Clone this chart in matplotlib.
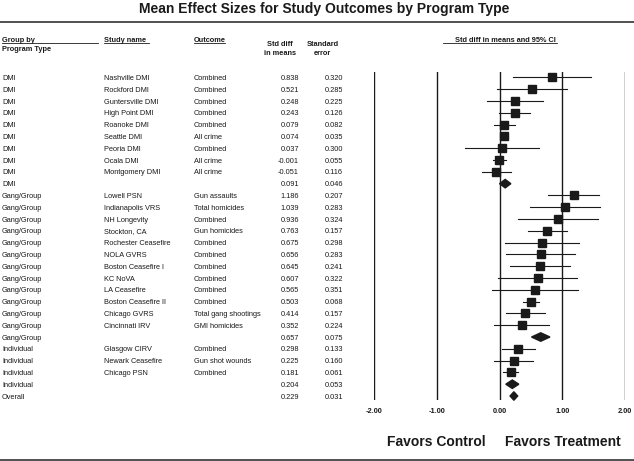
import numpy as np
import matplotlib.pyplot as plt
import matplotlib as mpl
from matplotlib.transforms import blended_transform_factory
from matplotlib.lines import Line2D

mpl.rc('font', family='Liberation Sans')

groups = ['DMI'] * 10 + ['Gang/Group'] * 13 + ['Individual'] * 4 + ['Overall']
studies = ['Nashville DMI', 'Rockford DMI', 'Guntersville DMI', 'High Point DMI', 'Roanoke DMI',
           'Seattle DMI', 'Peoria DMI', 'Ocala DMI', 'Montgomery DMI', '',
           'Lowell PSN', 'Indianapolis VRS', 'NH Longevity', 'Stockton, CA', 'Rochester Ceasefire',
           'NOLA GVRS', 'Boston Ceasefire I', 'KC NoVA', 'LA Ceasefire', 'Boston Ceasefire II',
           'Chicago GVRS', 'Cincinnati IRV', '',
           'Glasgow CIRV', 'Newark Ceasefire', 'Chicago PSN', '', '']
outcomes = ['Combined', 'Combined', 'Combined', 'Combined', 'Combined', 'All crime', 'Combined',
            'All crime', 'All crime', '',
            'Gun assaults', 'Total homicides', 'Combined', 'Gun homicides', 'Combined', 'Combined',
            'Combined', 'Combined', 'Combined', 'Combined', 'Total gang shootings', 'GMI homicides', '',
            'Combined', 'Gun shot wounds', 'Combined', '', '']
effect = [0.838, 0.521, 0.248, 0.243, 0.079, 0.074, 0.037, -0.001, -0.051, 0.091,
          1.186, 1.039, 0.936, 0.763, 0.675, 0.656, 0.645, 0.607, 0.565, 0.503, 0.414, 0.352, 0.657,
          0.298, 0.225, 0.181, 0.204, 0.229]
stderr = [0.320, 0.285, 0.225, 0.126, 0.082, 0.035, 0.300, 0.055, 0.116, 0.046,
          0.207, 0.283, 0.324, 0.157, 0.298, 0.283, 0.241, 0.322, 0.351, 0.068, 0.157, 0.224, 0.075,
          0.133, 0.160, 0.061, 0.053, 0.031]
is_summary = [s == '' for s in studies]
xticks = [-2, -1, 0, 1, 2]

W, H = 634, 461
ink = '#1a1a1a'
fig = plt.figure(figsize=(W / 100, H / 100), dpi=100)

def fx(px):
    return px / W

def fy(py):
    return 1 - py / H

# forest axes: rows at pixel 77.5 .. 396, x -2..2 at pixel 374..625
row0 = 77.5
row_px = (396 - row0) / 27
y_top, y_bot = -0.5, 27.35
ax_top = row0 + y_top * row_px
ax_bot = row0 + y_bot * row_px
ax = fig.add_axes([fx(374), fy(ax_bot), fx(625) - fx(374), (ax_bot - ax_top) / H])
ax.set_xlim(-2, 2)
ax.set_ylim(y_bot, y_top)
for s in ax.spines.values():
    s.set_visible(False)
ax.set_yticks([])
ax.set_xticks(xticks)
ax.set_xticklabels(['%.2f' % t for t in xticks], fontsize=5.3, fontweight='bold', color=ink)
ax.tick_params(axis='x', length=0, pad=6)
for t in xticks:
    ax.axvline(t, color=ink, lw=1.0, zorder=1)

eff = np.array(effect)
se = np.array(stderr)
lo, hi = eff - 1.96 * se, eff + 1.96 * se
rows = np.arange(len(eff))
for i in rows:
    if is_summary[i]:
        dh = 0.36
        ax.fill([lo[i], eff[i], hi[i], eff[i]], [i, i - dh, i, i + dh], color=ink, zorder=3,
                clip_on=False)
    else:
        ax.plot([lo[i], hi[i]], [i, i], color=ink, lw=0.8, zorder=2, clip_on=False)
        ax.plot(eff[i], i, marker='s', ms=6, color=ink, zorder=3, clip_on=False)

# table text, baseline a little below the row centre
tr = blended_transform_factory(fig.transFigure, ax.transData)
fs = 5.3
base = 0.22
tkw = dict(transform=tr, fontsize=fs, va='baseline', color=ink)
for i in rows:
    ax.text(fx(2), i + base, groups[i], **tkw)
    ax.text(fx(104), i + base, studies[i], **tkw)
    ax.text(fx(194), i + base, outcomes[i], **tkw)
    ax.text(fx(299), i + base, '%.3f' % effect[i], ha='right', **tkw)
    ax.text(fx(343), i + base, '%.3f' % stderr[i], ha='right', **tkw)

# headers
hkw = dict(fontsize=fs, color=ink, fontweight='bold', va='baseline')
fig.text(fx(2), fy(41.5), 'Group by', **hkw)
fig.text(fx(2), fy(50.5), 'Program Type', **hkw)
fig.text(fx(104), fy(41.5), 'Study name', **hkw)
fig.text(fx(194), fy(41.5), 'Outcome', **hkw)
fig.text(fx(280), fy(46), 'Std diff', ha='center', **hkw)
fig.text(fx(280), fy(55), 'in means', ha='center', **hkw)
fig.text(fx(322.5), fy(46), 'Standard', ha='center', **hkw)
fig.text(fx(322.5), fy(55), 'error', ha='center', **hkw)
fig.text(fx(505), fy(41.5), 'Std diff in means and 95% CI', ha='center', **hkw)
for x0, x1 in [(2, 98), (104, 149), (194, 225), (443, 557)]:
    fig.add_artist(Line2D([fx(x0), fx(x1)], [fy(43.5), fy(43.5)], color=ink, lw=0.6))

fig.text(fx(324), fy(8.5), 'Mean Effect Sizes for Study Outcomes by Program Type',
         ha='center', va='center', fontsize=10, fontweight='bold', color=ink)
fig.add_artist(Line2D([0, 1], [fy(21.7), fy(21.7)], color='#333333', lw=1.2))
fig.add_artist(Line2D([0, 1], [fy(460), fy(460)], color='#333333', lw=1.2))

fig.text(fx(436), fy(442), 'Favors Control', ha='center', va='center', fontsize=10,
         fontweight='bold', color=ink)
fig.text(fx(563), fy(442), 'Favors Treatment', ha='center', va='center', fontsize=10,
         fontweight='bold', color=ink)

fig.savefig('out.png', dpi=100)
